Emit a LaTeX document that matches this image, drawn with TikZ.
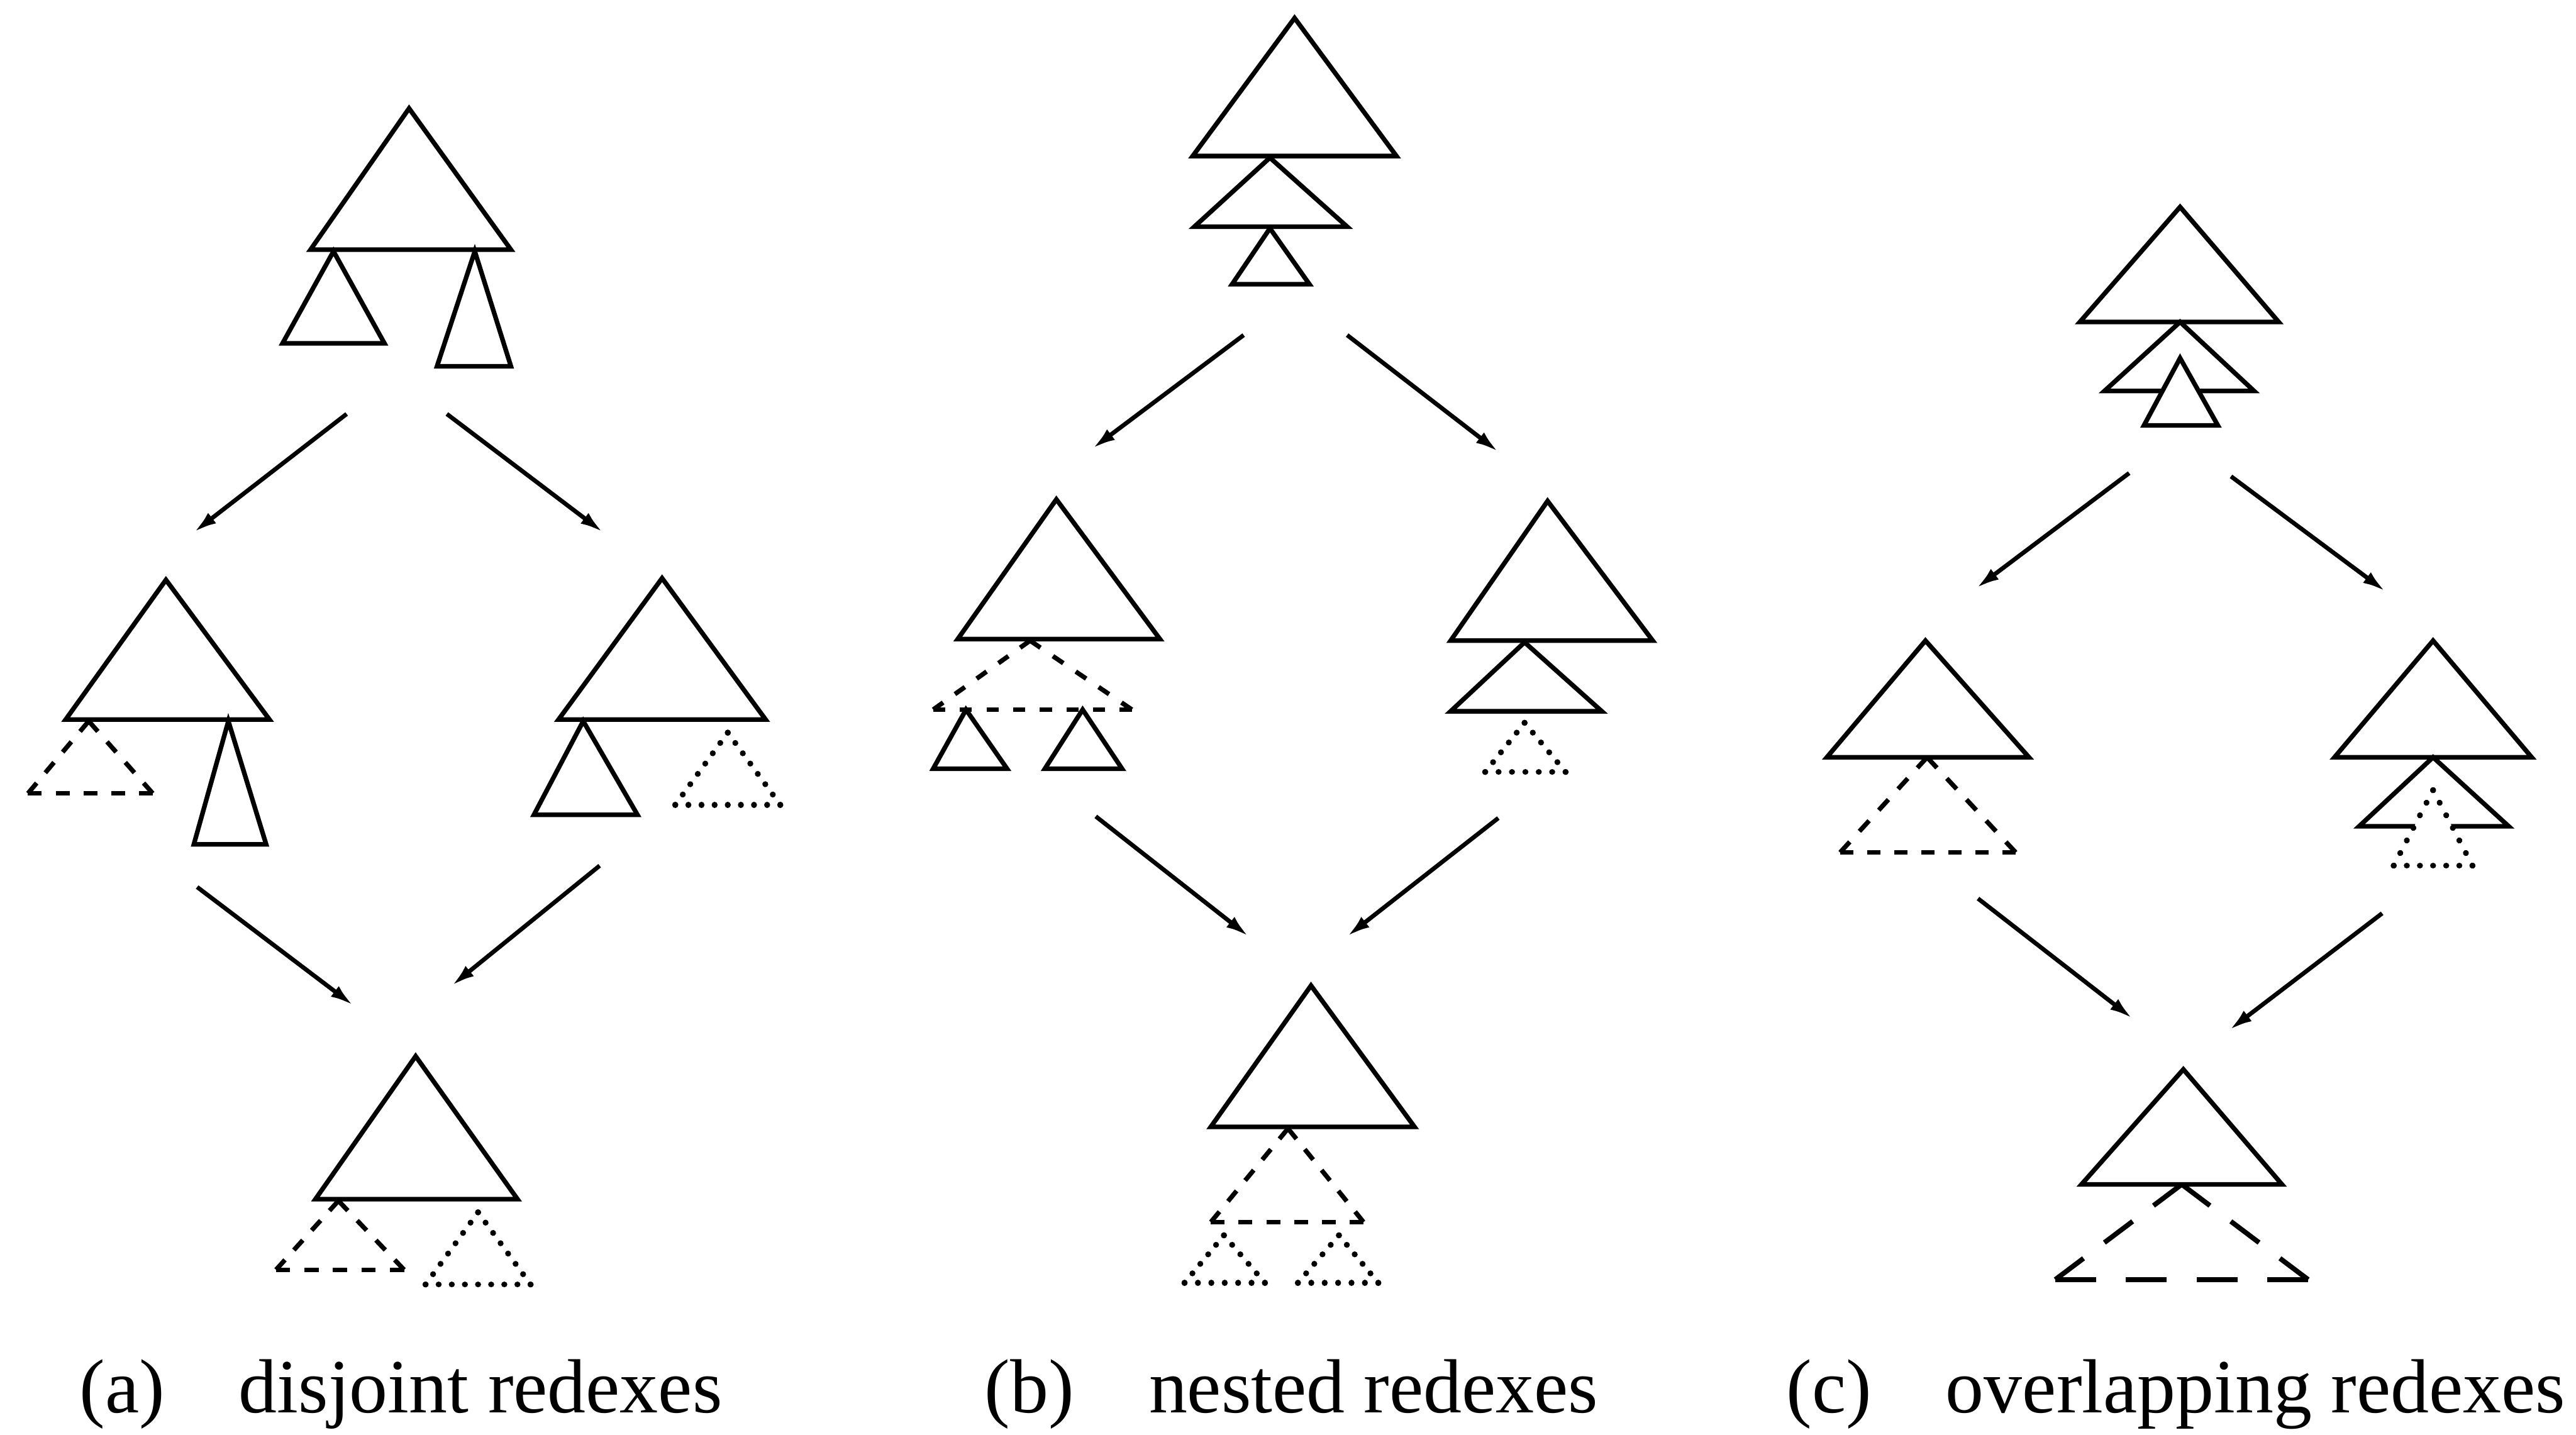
\documentclass[tikz,border=0pt]{standalone}
\usepackage{fontspec}
\setmainfont{Liberation Serif}
\usetikzlibrary{arrows.meta}

\tikzset{
  solidtri/.style={line width=1.4pt, line join=miter},
  dashline/.style={line width=1.4pt, line cap=butt},
  longdashline/.style={line width=1.5pt, line cap=butt},
  dotline/.style={line width=1.8pt, line cap=round},
  reduce/.style={line width=1.3pt, -{Latex[length=7pt,width=4pt]}},
  caption/.style={anchor=base west, inner sep=0pt, font=\fontsize{23.3}{28}\selectfont},
}

% One broken edge: the dash pattern is stretched so that the edge
% starts and ends with a dash (lengths given in drawing units).
% #1 style, #2 #3 start, #4 #5 end, #6 dash length, #7 gap length
\newcommand\rdxseg[7]{%
  \pgfmathsetmacro\rdxL{veclen(#4-#2,#5-#3)}%
  \pgfmathsetmacro\rdxN{max(1,round((\rdxL+#7)/(#6+#7)))}%
  \pgfmathsetmacro\rdxK{\rdxL/(\rdxN*#6+(\rdxN-1)*#7)}%
  \pgfmathsetmacro\rdxOn{#6*\rdxK*0.499}%
  \pgfmathsetmacro\rdxOff{#7*\rdxK*0.499}%
  \draw[#1, dash pattern=on \rdxOn pt off \rdxOff pt] (#2,#3) -- (#4,#5);
}
% A broken (dashed or dotted) triangle, each edge dashed on its own.
% #1 style, #2 #3 apex, #4 #5 left corner, #6 #7 right corner, #8 dash, #9 gap
\newcommand\rdxtri[9]{%
  \rdxseg{#1}{#2}{#3}{#4}{#5}{#8}{#9}%
  \rdxseg{#1}{#2}{#3}{#6}{#7}{#8}{#9}%
  \rdxseg{#1}{#4}{#5}{#6}{#7}{#8}{#9}%
}

\begin{document}
\begin{tikzpicture}[x=0.01754cm, y=-0.01754cm]
\useasboundingbox (0,0) rectangle (1568,873.3);

% ---------------- (a) disjoint redexes ----------------
% start term
\draw[solidtri] (249,66) -- (189,152) -- (311,152) -- cycle;
\draw[solidtri] (203,153) -- (172,209) -- (234,209) -- cycle;
\draw[solidtri] (289,153) -- (266,223) -- (311,223) -- cycle;
% left reduct
\draw[solidtri] (101,353) -- (40,438) -- (164,438) -- cycle;
\rdxtri{dashline}{54}{439}{17}{483}{93}{483}{8.5}{8.5}
\draw[solidtri] (139,439) -- (118,514) -- (162,514) -- cycle;
% right reduct
\draw[solidtri] (403,352) -- (340,438) -- (466,438) -- cycle;
\draw[solidtri] (355,439) -- (325,496) -- (388,496) -- cycle;
\rdxtri{dotline}{443}{446}{411}{490}{475}{490}{0.05}{8}
% common reduct
\draw[solidtri] (253,643) -- (192,730) -- (315,730) -- cycle;
\rdxtri{dashline}{206}{731}{168}{773}{246}{773}{8.5}{8.5}
\rdxtri{dotline}{291}{738}{259}{782}{323}{782}{0.05}{8}

\coordinate (a0l) at (211,252); \coordinate (a1l) at (118,324);
\coordinate (a0r) at (272,252); \coordinate (a1r) at (367,324);
\coordinate (a2l) at (120,540); \coordinate (a3l) at (215,612);
\coordinate (a2r) at (365,527); \coordinate (a3r) at (275,600);
\draw[reduce] (a0l) -- (a1l);
\draw[reduce] (a0r) -- (a1r);
\draw[reduce] (a2l) -- (a3l);
\draw[reduce] (a2r) -- (a3r);

% ---------------- (b) nested redexes ----------------
\draw[solidtri] (788,11) -- (726,95) -- (850,95) -- cycle;
\draw[solidtri] (773,96) -- (727,138) -- (820,138) -- cycle;
\draw[solidtri] (773,139) -- (750,173) -- (797,173) -- cycle;
% left reduct
\draw[solidtri] (643,304) -- (583,389) -- (706,389) -- cycle;
\rdxtri{dashline}{627}{390}{568}{432}{689}{432}{7.5}{9}
\draw[solidtri] (588,432) -- (568,468) -- (613,468) -- cycle;
\draw[solidtri] (659,432) -- (636,468) -- (683,468) -- cycle;
% right reduct
\draw[solidtri] (942,305) -- (883,390) -- (1006,390) -- cycle;
\draw[solidtri] (928,391) -- (883,433) -- (975,433) -- cycle;
\rdxtri{dotline}{928}{440}{904}{470}{953}{470}{0.05}{8}
% common reduct
\draw[solidtri] (798,600) -- (737,686) -- (861,686) -- cycle;
\rdxtri{dashline}{784}{687}{737}{744}{830}{744}{8.5}{8.5}
\rdxtri{dotline}{745}{752}{721}{781}{770}{781}{0.05}{8}
\rdxtri{dotline}{815}{752}{790}{781}{839}{781}{0.05}{8}

\coordinate (b0l) at (757,204); \coordinate (b1l) at (665,273);
\coordinate (b0r) at (820,204); \coordinate (b1r) at (912,275);
\coordinate (b2l) at (667,497); \coordinate (b3l) at (760,570);
\coordinate (b2r) at (912,498); \coordinate (b3r) at (820,570);
\draw[reduce] (b0l) -- (b1l);
\draw[reduce] (b0r) -- (b1r);
\draw[reduce] (b2l) -- (b3l);
\draw[reduce] (b2r) -- (b3r);

% ---------------- (c) overlapping redexes ----------------
\draw[solidtri] (1327,126) -- (1266,196) -- (1387,196) -- cycle;
\draw[solidtri] (1327,196) -- (1281,238) -- (1372,238) -- cycle;
\draw[solidtri, fill=white] (1327,218) -- (1305,259) -- (1350,259) -- cycle;
% left reduct
\draw[solidtri] (1172,390) -- (1112,461) -- (1235,461) -- cycle;
\rdxtri{dashline}{1173}{461}{1120}{519}{1227}{519}{8.5}{8.5}
% right reduct
\draw[solidtri] (1481,390) -- (1421,461) -- (1541,461) -- cycle;
\draw[solidtri] (1481,461) -- (1436,503) -- (1527,503) -- cycle;
\fill[white] (1481,481) -- (1457,527) -- (1505,527) -- cycle;
\rdxtri{dotline}{1481}{481}{1457}{527}{1505}{527}{0.05}{8}
% common reduct
\draw[solidtri] (1329,651) -- (1267,721) -- (1389,721) -- cycle;
\rdxtri{longdashline}{1328}{721}{1251}{779}{1405}{779}{23}{17}

\coordinate (c0l) at (1296,288); \coordinate (c1l) at (1203,358);
\coordinate (c0r) at (1358,290); \coordinate (c1r) at (1452,360);
\coordinate (c2l) at (1204,547); \coordinate (c3l) at (1298,620);
\coordinate (c2r) at (1450,556); \coordinate (c3r) at (1357,627);
\draw[reduce] (c0l) -- (c1l);
\draw[reduce] (c0r) -- (c1r);
\draw[reduce] (c2l) -- (c3l);
\draw[reduce] (c2r) -- (c3r);

% ---------------- captions ----------------
\node[caption] (capa)  at (48,860)   {(a)};
\node[caption] (capat) at (145,860)  {disjoint redexes};
\node[caption] (capb)  at (599,860)  {(b)};
\node[caption] (capbt) at (699,860)  {nested redexes};
\node[caption] (capc)  at (1087,860) {(c)};
\node[caption] (capct) at (1184,860) {overlapping redexes};
\end{tikzpicture}
\end{document}
